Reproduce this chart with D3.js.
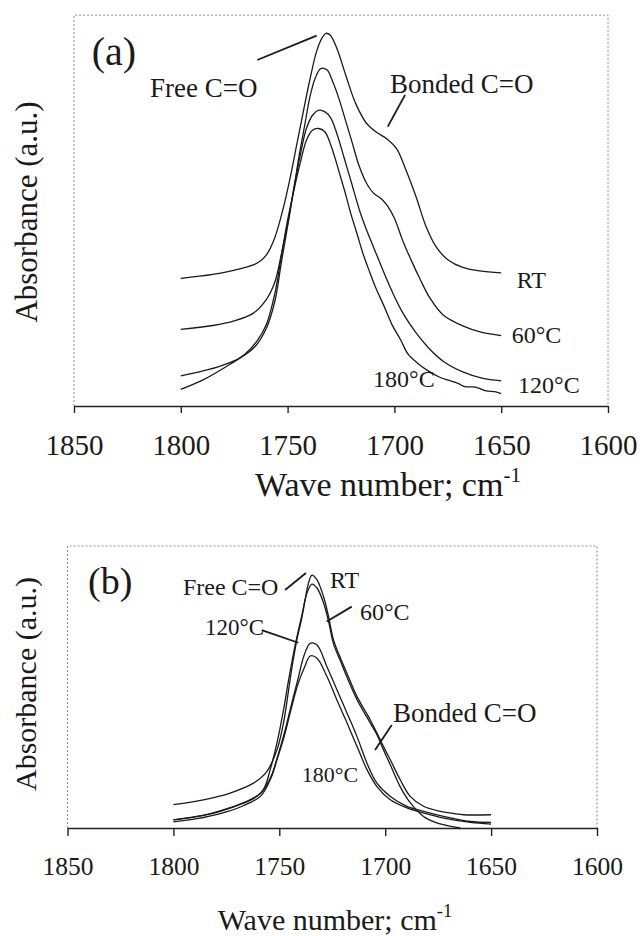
<!DOCTYPE html>
<html><head><meta charset="utf-8">
<script src="https://cdn.jsdelivr.net/npm/d3@7"></script>
<style>
html,body{margin:0;padding:0;background:#fff;}
svg{display:block;}
text{font-family:"Liberation Serif","Times New Roman",serif;fill:#1a1a1a;}
</style></head>
<body>
<svg id="chart" width="640" height="936"></svg>
<script>
// ---------- DATA ----------
const xTicks = [1850, 1800, 1750, 1700, 1650, 1600];
const xDomain = [1850, 1600];

// Panel (a): [wavenumber, absorbance (a.u., offset)]
const aRT = [[1800,33.0],[1785,34.0],[1772,35.5],[1764,37.0],[1760,39.0],[1756,43.5],[1752,51.2],[1748.8,59.0],[1745.7,67.6],[1742.6,76.2],[1739.5,84.5],[1736.5,91.5],[1734,95.0],[1732,96.3],[1730,95.8],[1727,92.5],[1722.5,85],[1718,78],[1713,73],[1708,70.6],[1703.5,69],[1699,66.5],[1694.4,60.7],[1689.7,53.8],[1685,46.1],[1680.2,40.9],[1675,37.8],[1668,35.8],[1660,34.9],[1650,34.4]];
const a60 = [[1800,19.8],[1785,20.8],[1775,22],[1766,24],[1760,27.5],[1756,32],[1752.8,39.5],[1749.5,48.5],[1747,56.4],[1744.5,65],[1742,72.5],[1739.5,80],[1737,84.8],[1734.5,87.2],[1731.5,86.8],[1729,84],[1726,79.5],[1723,74],[1720,68.5],[1716.5,62],[1713,57.5],[1709.8,55],[1706,53.5],[1703,51.5],[1700,48.5],[1696,42.6],[1692,37.5],[1688,32.8],[1683.5,28],[1677.3,23.6],[1668,20.7],[1659,19.0],[1650,18.2]];
const a120 = [[1800,7.8],[1790,9],[1781.5,10.3],[1772,12.5],[1765,15.5],[1760,20],[1756,27],[1752.8,37.5],[1749.5,48],[1747,56.4],[1744,65],[1741.3,71.5],[1738.5,75],[1735.5,76.4],[1732.5,76],[1729.9,74.5],[1727,70.5],[1724,65],[1720,57.5],[1716,50],[1712.7,45],[1709,40],[1705.3,35],[1701,29.5],[1696,24],[1690,19],[1684,15],[1677,11.5],[1668,8.8],[1659,7.2],[1650,6.5]];
const a180 = [[1800,4.3],[1789.1,6.9],[1779.6,9.9],[1770,13.4],[1764.3,16.8],[1760,21],[1756,29],[1752.8,39.2],[1750,48],[1747.1,55.6],[1744,63],[1741.3,68.5],[1738.5,71.2],[1735.5,71.7],[1732.5,70.8],[1729.5,67],[1726,60.7],[1723,55],[1720.3,49.5],[1717.5,44.5],[1714.6,39.2],[1711.5,34.5],[1708.8,30.6],[1705,26],[1701.2,21.1],[1697,17],[1693.6,13.4],[1689,11],[1684,9.0],[1679,7.5],[1674.4,6.6],[1670,5.8],[1667,5.0],[1662,4.9],[1657,3.9],[1653,3.7],[1650,3.2]];

// Panel (b)
const bRT = [[1800,8.3],[1785.8,10.0],[1773.2,12.4],[1762.2,15.9],[1755.9,20.0],[1751.1,27.7],[1748.0,37.3],[1745.6,49.0],[1744.0,57],[1741.7,66.7],[1739.5,74],[1737.8,80.9],[1736.2,86.9],[1734.6,89.7],[1732.2,88.0],[1729.1,82.0],[1726.7,74.8],[1724.4,66.7],[1721,60],[1718.1,54.9],[1713.3,46.6],[1707.1,38.4],[1703.9,33.7],[1700.8,28.9],[1697.6,24.2],[1692.9,17.1],[1688.2,11.2],[1681.9,7.7],[1674.0,5.9],[1668,5.2],[1663.0,4.7],[1650,4.7]];
const b60 = [[1800,2.9],[1785.8,4.5],[1773.2,7.2],[1762.2,10.4],[1757.5,13.6],[1754.3,20.7],[1751.1,30.2],[1748.0,41.9],[1745.6,52.5],[1742.5,64.9],[1739.3,75.6],[1736.9,83.4],[1734.6,86.5],[1732.2,85.1],[1729.1,79.8],[1726.7,73.1],[1724.4,65.3],[1721,59],[1718.1,53.6],[1713.3,45.5],[1707.1,37.3],[1703.9,33.1],[1700.8,27.7],[1697.6,22.4],[1692.9,14.6],[1688.2,9.0],[1681.9,4.1],[1676,1.9],[1669,0.6],[1664.5,0]];
const b120 = [[1800,2.9],[1788.9,4.1],[1777.9,5.9],[1767,8.9],[1758.7,12.4],[1753.9,18.3],[1750.8,25.4],[1747.6,33.7],[1744.5,43.1],[1741.3,52.5],[1738.2,61.4],[1735.4,65.5],[1732.2,64.9],[1727.5,57.2],[1722.8,49.0],[1718,40.7],[1713.3,32.4],[1708.6,23.0],[1703.9,15.9],[1697.6,11.2],[1689.7,7.7],[1681.8,5.9],[1672.4,4.1],[1659.8,2.3],[1650,2.0]];
const b180 = [[1800,2.2],[1788.9,3.3],[1777.9,5.1],[1767,7.9],[1758.7,11.4],[1753.9,17.8],[1750.8,24.9],[1747.6,32.7],[1744.5,41.9],[1741.3,50.8],[1738.2,56.8],[1735.4,61.0],[1732.2,60.2],[1727.5,53.7],[1722.8,45.4],[1718,37.2],[1713.3,28.9],[1708.6,20.7],[1703.9,14.7],[1697.6,10.0],[1689.7,7.1],[1681.8,5.3],[1672.4,3.5],[1659.8,2.0],[1650,1.4]];

// Text labels
const xTitle = "Wave number; cm";
const xTitleSup = "-1";
const yTitle = "Absorbance (a.u.)";

// Annotations (data coordinates): [text, wn, value, size]
const aLabels = [["(a)",1841.7,88.1,40],["Free C=O",1814.4,79.9,27],["Bonded C=O",1702.1,80.8,27],["RT",1642.7,30.5,24],["60°C",1645.1,16.3,24],["120°C",1642.1,3.4,24],["180°C",1710.0,5.0,24]];
const aLeaders = [[[1764.2,89.4],[1736.4,95.7]],[[1695.0,80.4],[1703.1,72.2]]];
const bLabels = [["(b)",1840.3,83.0,38],["Free C=O",1795.5,82.6,24],["RT",1726.1,85.1,24],["60°C",1711.9,73.8,24],["120°C",1785.1,68.4,23],["Bonded C=O",1696.3,37.7,27],["180°C",1739.4,16.4,22]];
const bLeaders = [[[1747.3,84.4],[1737.4,90.4]],[[1727.6,73.2],[1715.8,78.5]],[[1758.3,70.2],[1741.0,65.7]],[[1696.9,36.5],[1704.8,27.7]]];

// ---------- DRAW ----------
const FONT = '"Liberation Serif","Times New Roman",serif';
const svg = d3.select("#chart");
svg.append("rect").attr("width",640).attr("height",936).attr("fill","#fff");

function panel(cfg){
  const x = d3.scaleLinear().domain(xDomain).range([cfg.left, cfg.right]);
  const y = d3.scaleLinear().domain([0, 100]).range([cfg.bottom, cfg.bottom - cfg.h100]);
  const g = svg.append("g");
  const top = y(cfg.topVal);
  // dotted frame
  g.append("path")
    .attr("d", `M${x(1850)},${y(0)}V${top}H${x(1600)}V${y(0)}`)
    .attr("fill","none").attr("stroke","#8a8a8a").attr("stroke-width",1)
    .attr("stroke-dasharray","2,2");
  // x axis
  const ax = g.append("g").attr("transform",`translate(0,${y(0)})`)
    .call(d3.axisBottom(x).tickValues(xTicks).tickFormat(d3.format("d"))
      .tickSize(cfg.tick).tickSizeOuter(0).tickPadding(cfg.pad));
  ax.attr("font-family", FONT);
  ax.select(".domain").attr("stroke","#222").attr("stroke-width",1.6);
  ax.selectAll(".tick line").attr("stroke","#222").attr("stroke-width",1.4);
  ax.selectAll(".tick text").style("font-size",cfg.tickFont+"px")
    .style("font-family",FONT).attr("fill","#1a1a1a");
  // x title
  const t = g.append("text").attr("x",cfg.titleX).attr("y",cfg.titleY)
    .attr("text-anchor","middle").style("font-family",FONT).style("font-size",cfg.titleFont+"px");
  t.append("tspan").text(xTitle);
  t.append("tspan").text(xTitleSup).style("font-size",(cfg.titleFont*0.62)+"px").attr("dy",-cfg.titleFont*0.42);
  // y title
  g.append("text").attr("transform",`translate(${cfg.yTitleX},${cfg.yTitleY}) rotate(-90)`)
    .attr("text-anchor","middle").style("font-family",FONT).style("font-size",cfg.yTitleFont+"px").text(yTitle);
  // curves
  const line = d3.line().x(d=>x(d[0])).y(d=>y(d[1])).curve(d3.curveCatmullRom.alpha(0.5));
  g.selectAll("path.curve").data(cfg.series).enter().append("path")
    .attr("class","curve").attr("d",line)
    .attr("fill","none").attr("stroke","#1a1a1a").attr("stroke-width",1.3);
  // leaders
  g.selectAll("line.leader").data(cfg.leaders).enter().append("line")
    .attr("x1",d=>x(d[0][0])).attr("y1",d=>y(d[0][1]))
    .attr("x2",d=>x(d[1][0])).attr("y2",d=>y(d[1][1]))
    .attr("stroke","#1a1a1a").attr("stroke-width",1.8);
  // labels
  g.selectAll("text.lab").data(cfg.labels).enter().append("text")
    .attr("class","lab").attr("x",d=>x(d[1])).attr("y",d=>y(d[2]))
    .style("font-family",FONT).style("font-size",d=>d[3]+"px").text(d=>d[0]);
}

panel({left:74,right:608,bottom:406,h100:387,topVal:101,tick:7,pad:21,tickFont:29,
  titleX:388,titleY:496,titleFont:34,yTitleX:37,yTitleY:212,yTitleFont:31,
  series:[aRT,a60,a120,a180],leaders:aLeaders,labels:aLabels});
panel({left:67.5,right:597,bottom:828,h100:282,topVal:100,tick:8,pad:21,tickFont:25.5,
  titleX:335,titleY:930,titleFont:30,yTitleX:36,yTitleY:684,yTitleFont:30,
  series:[bRT,b60,b120,b180],leaders:bLeaders,labels:bLabels});
</script>
</body></html>
